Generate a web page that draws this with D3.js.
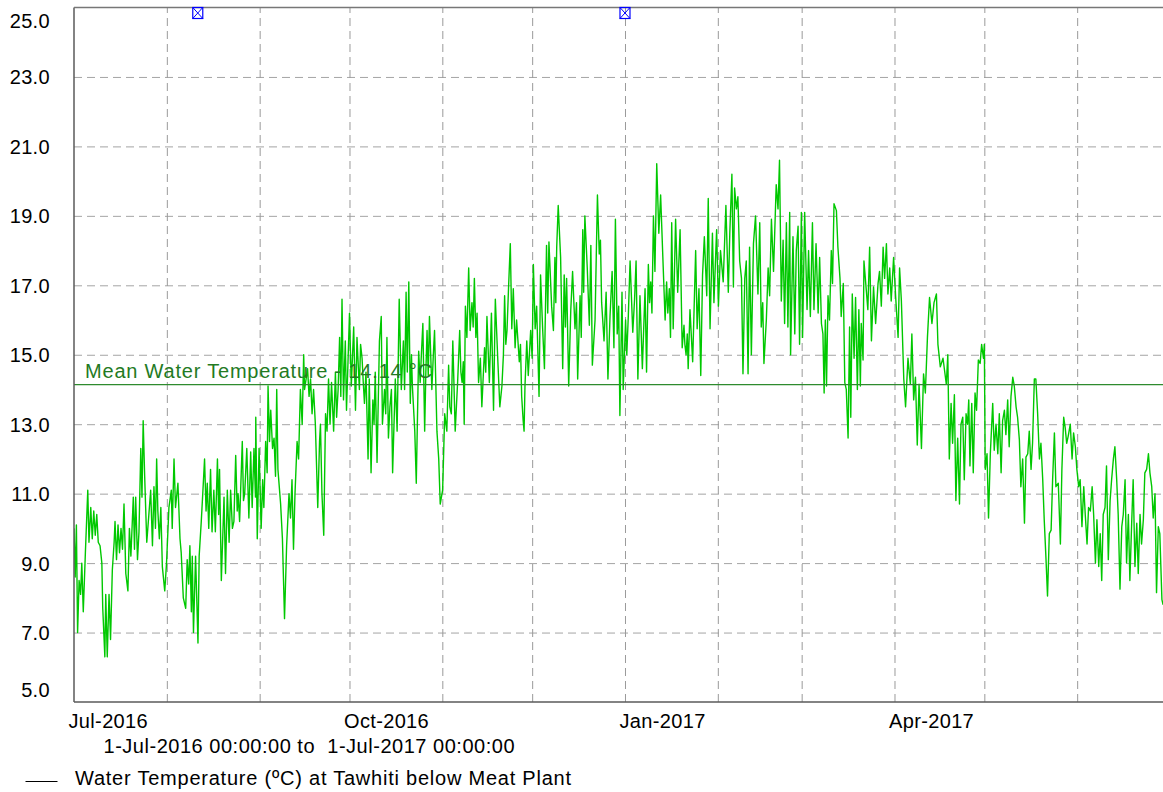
<!DOCTYPE html>
<html>
<head>
<meta charset="utf-8">
<script src="https://cdn.jsdelivr.net/npm/d3@7"></script>
<style>
  html, body { margin: 0; padding: 0; background: #fff; }
  svg { display: block; font-family: "Liberation Sans", Arial, sans-serif; }
</style>
</head>
<body>
<svg id="chart" width="1163" height="792"></svg>
<script>
// ---------------- DATA ----------------
const startDate = "2016-07-01";
const endDate = "2017-07-01";
const yTicks = [5, 7, 9, 11, 13, 15, 17, 19, 21, 23, 25];
const xLabelTicks = ["2016-07-01", "2016-10-01", "2017-01-01", "2017-04-01"];
const meanValue = 14.14;
const meanLabel = "Mean Water Temperature - 14.14 °C";
const periodLabel = "1-Jul-2016 00:00:00 to  1-Jul-2017 00:00:00";
const seriesName = "Water Temperature (ºC) at Tawhiti below Meat Plant";
const markerDates = ["2016-08-11T08:00:00Z", "2017-01-01T00:00:00Z"];

// day offset from 1-Jul-2016
const dayOffsets = [
0,0.4,0.8,1.2,1.7,2.2,2.6,3.1,3.8,4.6,5.0,5.6,6.1,6.6,7.1,7.6,8.1,8.7,9.3,9.6,10.3,10.6,11.1,11.7,12.2,12.8,13.4,13.7,14.2,14.7,15.2,15.7,16.2,16.7,17.3,18.0,18.5,19.0,19.8,20.2,20.6,21.2,21.7,22.3,22.7,23.1,23.6,24.3,25.0,25.6,26.2,26.7,27.2,27.6,28.0,28.5,29.0,29.5,30.3,30.9,31.7,32.5,32.8,33.4,33.9,34.7,35.4,35.8,36.5,37.3,37.8,38.3,38.7,39.2,39.5,39.9,40.6,41.4,41.8,42.5,43.0,43.6,44.1,44.5,45.0,45.6,46.1,46.7,47.2,47.9,48.3,48.6,49.2,50.1,50.6,51.2,51.8,52.3,52.9,53.4,54.0,54.5,54.8,55.3,56.2,56.6,57.0,57.7,58.4,59.0,59.5,60.1,60.6,60.7,61.2,61.8,62.5,63.0,63.4,64.0,64.5,64.8,65.3,65.7,66.3,66.8,67.3,67.7,68.1,69.0,69.6,70.3,71.0,71.8,72.3,72.8,
73.3,73.8,74.5,75.0,75.6,76.2,76.7,77.0,77.5,78.0,78.5,79.0,79.5,80.0,80.6,81.4,82.0,82.3,82.8,83.4,84.0,84.5,85.0,85.5,86.0,86.7,87.3,87.7,88.2,88.7,89.1,89.5,90.0,90.6,91.0,91.5,92.0,92.6,93.4,94.0,94.5,95.3,95.7,96.2,96.6,97.0,97.5,98.2,98.6,99.2,99.8,100.2,100.6,101.2,102.0,102.6,103.0,103.7,104.1,104.5,105.0,105.5,106.0,106.4,107.3,107.9,108.6,109.3,109.7,110.0,110.4,110.9,111.3,111.8,112.3,112.7,113.0,113.8,114.3,115.1,115.6,116.0,116.5,117.1,117.5,117.9,118.3,118.7,119.5,120.0,120.4,121.2,121.8,122.3,123.1,123.8,124.5,125.1,125.5,126.0,126.5,127.3,128.1,128.8,129.2,129.6,130.0,130.3,130.7,131.2,131.8,132.3,132.9,133.3,133.7,134.2,134.6,135.1,135.7,136.2,137.1,137.5,137.9,138.7,139.4,140.1,140.7,141.6,142.2,142.9,143.4,143.8,144.2,144.6,145.1,145.7,146.2,
146.7,147.3,147.8,148.7,149.1,149.5,150.0,150.3,150.6,151.2,151.7,152.5,153.0,153.4,154.0,154.5,155.3,155.8,156.5,157.1,157.8,158.2,158.6,159.5,160.1,160.6,160.9,161.2,161.7,162.5,163.2,163.7,164.1,164.5,165.2,165.9,166.5,167.3,167.8,168.2,169.0,169.4,169.9,170.2,170.6,171.4,172.1,172.6,173.1,174.0,174.8,175.4,175.8,176.2,177.0,177.7,178.3,179.0,179.7,180.3,180.8,181.4,181.9,182.3,183.0,183.4,184.2,184.6,185.1,185.7,186.6,187.2,187.7,188.3,189.0,189.8,190.7,191.2,191.8,192.2,192.6,193.0,193.5,194.0,194.6,195.3,195.9,196.6,197.4,197.9,198.3,198.8,199.2,199.6,200.1,200.9,201.6,202.4,203.1,203.7,204.0,204.4,204.8,205.1,205.7,206.6,207.6,208.1,208.7,209.3,209.9,210.5,211.3,211.8,212.4,213.2,213.7,214.6,215.2,215.9,216.8,217.7,218.5,
219.0,219.7,220.2,220.6,221.2,221.7,222.3,222.9,223.4,224.0,224.5,225.1,225.6,226.2,226.9,227.6,228.4,229.0,229.5,230.0,230.4,231.2,231.8,232.3,232.9,233.6,234.5,235.1,235.6,236.2,236.8,237.3,237.9,238.4,239.0,239.3,240.1,240.7,241.2,241.8,242.3,242.9,243.3,244.0,244.8,245.3,245.9,246.6,247.1,247.8,248.5,249.0,249.6,250.1,250.5,250.9,251.3,251.8,252.3,252.9,253.3,253.8,254.6,255.1,255.8,256.2,256.9,257.4,257.9,258.5,259.0,259.4,259.9,260.5,261.0,261.6,262.1,262.6,262.9,263.5,263.8,264.4,265.1,265.7,266.3,267.0,267.7,268.5,269.0,269.6,270.2,270.7,271.3,271.8,272.4,272.9,273.7,274.4,275.2,275.7,276.3,277.1,277.7,278.5,279.3,279.8,280.4,281.0,281.6,282.2,283.0,283.7,284.3,285.0,285.7,286.5,287.2,288.0,288.5,289.3,290.2,291.3,
291.8,292.3,292.9,293.4,294.0,294.5,295.1,295.7,296.2,296.8,297.3,297.9,298.4,298.8,299.2,299.8,300.3,300.9,301.4,302.0,302.6,303.1,303.7,304.0,304.3,304.9,305.4,306.0,306.8,307.3,307.9,308.5,309.0,309.6,310.1,310.7,311.2,311.8,312.3,312.9,313.5,314.0,314.6,315.1,315.7,316.2,316.8,317.4,317.9,318.5,319.0,319.6,320.1,320.7,321.2,321.8,322.4,322.9,323.5,324.0,324.6,325.1,325.7,326.3,326.8,327.4,327.9,328.7,329.4,329.9,330.5,331.0,331.5,332.0,332.7,333.3,333.8,334.4,334.9,335.5,336.0,336.6,337.2,337.7,338.3,338.8,339.4,340.0,340.5,341.1,341.6,342.2,342.7,343.2,343.7,344.3,344.8,345.4,346.0,346.5,347.1,347.6,348.2,348.7,349.3,349.9,350.4,351.0,351.5,352.1,352.6,353.2,353.7,354.3,354.9,355.4,356.0,356.5,357.1,357.6,358.2,358.8,359.3,359.9,360.4,361.0,361.5,362.1,362.6,363.3,363.7
];

// water temperature (°C) at each offset
const temps = [
10.0,8.6,10.1,7.0,8.5,8.1,9.0,7.6,9.3,11.1,9.6,10.6,9.7,10.5,9.8,10.4,9.6,9.5,9.0,7.7,6.3,8.1,6.3,8.1,6.8,8.8,9.6,10.2,9.1,10.1,9.3,10.0,9.4,10.7,8.7,8.2,10.0,9.2,10.9,9.4,10.9,9.1,9.9,12.3,10.9,13.1,11.5,9.6,10.4,11.1,9.5,11.2,10.0,12.0,10.5,9.7,10.6,8.9,8.2,9.0,10.6,11.1,10.0,12.0,10.6,11.3,9.7,9.3,8.0,7.7,9.1,8.4,9.5,7.6,9.2,7.0,9.2,6.7,9.2,10.2,11.0,12.0,10.5,11.3,10.0,11.7,9.9,11.1,9.9,12.0,10.4,11.7,8.5,10.9,8.7,11.1,9.6,11.1,10.0,10.2,12.1,10.5,11.0,10.2,12.5,10.8,11.0,12.3,10.3,12.2,10.6,12.3,10.9,13.2,9.7,12.3,10.0,11.4,10.6,12.5,11.6,14.1,12.5,13.4,12.3,12.6,11.5,14.0,11.7,10.7,9.7,7.4,9.5,11.0,10.3,11.4,
9.4,11.0,12.5,12.0,14.0,13.0,15.0,14.0,14.3,14.6,13.8,14.3,13.3,14.0,13.0,10.6,12.5,13.0,11.0,9.8,13.3,12.8,14.3,13.0,14.2,12.8,14.5,13.2,14.0,15.5,13.8,16.6,13.7,15.4,13.4,14.8,16.2,14.1,15.8,13.4,15.5,14.0,15.3,14.9,14.2,13.6,14.5,12.0,14.3,11.6,13.7,13.0,14.5,11.9,15.4,16.1,13.0,14.0,13.3,15.5,12.6,13.5,14.0,11.6,14.3,12.8,16.6,14.0,14.8,15.4,14.0,16.8,14.5,17.1,13.6,15.0,14.1,12.8,11.3,15.1,14.2,15.0,15.9,12.8,14.5,15.7,14.4,16.1,14.0,15.0,15.7,12.8,12.0,10.7,11.1,13.3,12.8,14.7,13.5,13.3,15.4,12.8,14.2,15.7,14.5,14.2,14.8,13.0,16.4,15.5,17.5,15.7,16.5,15.8,17.2,15.5,16.2,14.2,14.9,13.5,15.2,14.5,16.1,14.2,16.2,13.4,16.6,14.7,13.5,14.1,15.0,16.7,15.3,15.7,16.9,18.2,15.75,
16.9,15.2,16.0,14.8,15.3,13.8,13.1,12.8,14.1,15.4,14.4,15.7,14.9,17.6,15.75,16.4,13.8,17.3,15.75,14.6,18.15,16.2,18.25,16.4,15.7,17.8,16.5,18.1,19.3,17.8,14.6,17.3,15.8,17.2,14.1,16.3,17.4,15.75,16.5,14.3,16.7,15.5,18.6,16.8,19.0,17.5,15.85,18.15,14.7,16.0,19.6,17.9,18.3,16.5,15.4,16.8,14.3,16.1,17.4,15.2,18.9,15.6,16.4,13.25,16.8,14.0,16.0,15.0,16.1,17.7,15.65,16.6,17.7,14.3,16.7,14.6,16.9,14.5,17.6,16.5,17.1,16.2,19.0,17.4,20.5,18.5,19.6,17.9,16.0,17.1,16.2,16.9,15.5,18.8,15.75,18.9,16.8,18.6,15.2,15.85,15.3,15.0,15.6,14.6,16.3,14.8,18.0,15.75,16.9,14.4,17.3,18.4,16.7,19.5,15.75,18.5,16.5,18.6,16.4,18.0,17.1,19.3,16.8,
18.5,20.2,16.95,19.8,19.2,19.55,17.7,17.2,14.45,17.2,17.7,14.45,18.1,15.0,18.2,19.0,16.75,18.8,15.8,16.5,14.75,16.0,17.5,16.7,18.9,17.4,19.9,19.2,20.6,16.55,18.3,15.9,18.8,15.8,19.1,15.0,18.4,15.6,18.0,18.7,15.3,19.1,15.5,19.1,16.3,18.0,16.1,18.8,16.3,18.2,16.2,17.8,15.9,15.6,13.9,16.0,14.1,16.7,16.0,18.0,17.05,19.35,19.15,18.1,17.2,16.1,17.05,14.2,14.0,12.6,15.8,13.2,16.75,14.9,16.65,14.0,16.3,14.1,15.9,14.85,17.7,17.05,16.3,18.1,15.4,16.95,15.9,17.05,17.4,16.4,18.1,17.2,18.2,16.75,17.5,16.55,17.8,16.65,15.5,17.5,16.55,14.3,13.5,14.9,14.15,15.6,13.7,14.35,12.4,14.15,12.3,14.45,13.9,15.5,16.65,15.9,16.5,16.75,15.3,14.65,14.9,14.15,
15.0,12.0,13.6,12.45,13.85,10.8,12.6,10.7,13.0,13.2,11.4,13.3,13.0,13.7,11.8,13.6,11.6,13.9,13.4,14.85,14.75,15.3,14.9,15.3,11.7,12.15,10.3,12.15,13.6,12.25,13.0,12.15,13.3,11.6,13.1,13.4,12.7,13.7,12.35,13.8,14.35,14.1,13.5,13.2,12.55,11.2,12.0,10.15,12.05,12.15,12.8,11.7,12.45,14.3,14.3,13.3,12.0,12.45,11.4,10.25,9.1,8.05,9.85,9.95,11.4,12.75,11.2,11.3,9.55,11.7,13.2,12.9,12.45,12.65,13.0,12.0,12.75,12.35,11.7,11.2,11.4,10.05,11.2,10.4,9.55,10.6,10.5,11.2,10.4,9.0,10.25,8.9,9.85,8.5,10.4,10.6,11.8,9.1,10.8,11.4,12.0,12.35,11.4,10.4,8.25,10.05,10.4,11.4,9.0,10.4,8.5,10.15,11.4,8.9,10.15,8.7,10.4,9.55,10.25,11.6,11.7,12.15,11.6,11.2,10.3,11.0,8.15,10.05,9.85,7.95,7.8
];

// ---------------- CHART ----------------
const svg = d3.select("#chart");
const W = 1163, H = 792;
const plot = { left: 74, right: 1167, top: 7.5, bottom: 702 };

const t0 = new Date(startDate + "T00:00:00Z");
const t1 = new Date(endDate + "T00:00:00Z");
const x = d3.scaleUtc().domain([t0, t1]).range([plot.left, plot.right]);
const y = d3.scaleLinear().domain([5, 25]).range([plot.bottom, plot.top]);

const data = dayOffsets.map((d, i) => ({ date: new Date(t0.getTime() + d * 86400000), v: temps[i] }));

const fontSize = 20;
const gridColor = "#a4a4a4";
const axisColor = "#5a5a5a";

// clip
svg.append("defs").append("clipPath").attr("id", "clip")
  .append("rect").attr("x", plot.left).attr("y", plot.top)
  .attr("width", W - plot.left).attr("height", plot.bottom - plot.top);

// horizontal grid
const hGrid = svg.append("g").attr("transform", `translate(${plot.left},0)`)
  .call(d3.axisLeft(y).tickValues(yTicks.filter(v => v > 5 && v < 25))
    .tickSize(-(W - plot.left)).tickFormat(""));
hGrid.select(".domain").remove();
hGrid.selectAll("line").attr("stroke", gridColor).attr("stroke-dasharray", "8,5").attr("stroke-width", 1);

// vertical month grid
const months = d3.utcMonth.range(d3.utcMonth.offset(t0, 1), t1);
const vGrid = svg.append("g").attr("transform", `translate(0,${plot.bottom})`)
  .call(d3.axisBottom(x).tickValues(months).tickSize(-(plot.bottom - plot.top)).tickFormat(""));
vGrid.select(".domain").remove();
vGrid.selectAll("line").attr("stroke", "#9a9a9a").attr("stroke-dasharray", "8,5").attr("stroke-width", 1);

// data line
const line = d3.line().x(d => x(d.date)).y(d => y(d.v));
svg.append("path").datum(data)
  .attr("clip-path", "url(#clip)")
  .attr("fill", "none").attr("stroke", "#00c800").attr("stroke-width", 1.4)
  .attr("stroke-linejoin", "round")
  .attr("d", line);

// mean line
svg.append("line")
  .attr("x1", plot.left).attr("x2", W)
  .attr("y1", y(meanValue)).attr("y2", y(meanValue))
  .attr("stroke", "#2e8b2e").attr("stroke-width", 1.2);
svg.append("text")
  .attr("x", 85).attr("y", y(meanValue) - 6.5)
  .attr("fill", "#237a23").attr("font-size", fontSize)
  .attr("letter-spacing", 0.8)
  .text(meanLabel);

// axes frame lines
svg.append("line").attr("x1", plot.left).attr("x2", plot.left)
  .attr("y1", plot.top).attr("y2", plot.bottom)
  .attr("stroke", axisColor).attr("stroke-width", 1.5);
svg.append("line").attr("x1", plot.left).attr("x2", W)
  .attr("y1", plot.bottom).attr("y2", plot.bottom)
  .attr("stroke", axisColor).attr("stroke-width", 1.5);
svg.append("line").attr("x1", plot.left).attr("x2", W)
  .attr("y1", plot.top).attr("y2", plot.top)
  .attr("stroke", "#777").attr("stroke-width", 1.5);

// y axis labels
const yAxis = svg.append("g").attr("transform", `translate(50,0)`)
  .call(d3.axisLeft(y).tickValues(yTicks).tickFormat(d3.format(".1f")).tickSize(0).tickPadding(0));
yAxis.select(".domain").remove();
yAxis.selectAll("text")
  .attr("font-family", "Liberation Sans, Arial, sans-serif")
  .attr("font-size", fontSize).attr("fill", "#000")
  .attr("letter-spacing", 0.35)
  .attr("dy", d => d === 25 ? "1.0em" : d === 5 ? "-0.3em" : "0.35em");

// x axis labels
const xAxis = svg.append("g").attr("transform", `translate(0,${plot.bottom})`)
  .call(d3.axisBottom(x).tickValues(xLabelTicks.map(s => new Date(s + "T00:00:00Z")))
    .tickFormat(d3.utcFormat("%b-%Y")).tickSize(0).tickPadding(0));
xAxis.select(".domain").remove();
xAxis.selectAll("text")
  .attr("font-family", "Liberation Sans, Arial, sans-serif")
  .attr("font-size", fontSize).attr("fill", "#000")
  .attr("letter-spacing", 0.35)
  .attr("text-anchor", "start").attr("dx", -6).attr("y", 25.5).attr("dy", 0);

// period label
svg.append("text").attr("x", 103.5).attr("y", 753)
  .attr("font-size", fontSize).attr("fill", "#000")
  .attr("textLength", 411).attr("lengthAdjust", "spacing")
  .style("white-space", "pre")
  .text(periodLabel);

// legend
svg.append("line").attr("x1", 25.5).attr("x2", 57.5).attr("y1", 781.5).attr("y2", 781.5)
  .attr("stroke", "#000").attr("stroke-width", 1);
svg.append("text").attr("x", 75).attr("y", 784.5)
  .attr("font-size", fontSize).attr("fill", "#000")
  .attr("textLength", 496).attr("lengthAdjust", "spacing")
  .text(seriesName);

// blue markers
const mk = svg.append("g");
markerDates.forEach(s => {
  const cx = x(new Date(s)), cy = 13;
  const g = mk.append("g").attr("transform", `translate(${cx},${cy})`);
  g.append("rect").attr("x", -5).attr("y", -5.5).attr("width", 10).attr("height", 11)
    .attr("fill", "none").attr("stroke", "#0000ff").attr("stroke-width", 1.2);
  g.append("path").attr("d", "M-5,-5.5L5,5.5M5,-5.5L-5,5.5")
    .attr("stroke", "#0000ff").attr("stroke-width", 1);
});
</script>
</body>
</html>
